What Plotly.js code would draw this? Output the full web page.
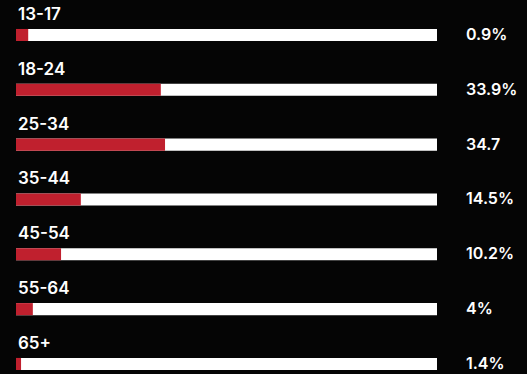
<!DOCTYPE html>
<html>
<head>
<meta charset="utf-8">
<script src="https://cdn.plot.ly/plotly-3.0.1.min.js"></script>
<style>
  html, body { margin: 0; padding: 0; background: #050505; }
  #chart { width: 527px; height: 374px; }
</style>
</head>
<body>
<div id="chart"></div>
<script>
// Age groups (top to bottom)
const ageGroups = ["13-17", "18-24", "25-34", "35-44", "45-54", "55-64", "65+"];
// Value labels as printed on the right
const valueLabels = ["0.9%", "33.9%", "34.7", "14.5%", "10.2%", "4%", "1.4%"];
// Red fill length of each bar (percent of full track)
const fillPct = [2.9, 34.4, 35.4, 15.4, 10.7, 4.0, 1.2];
// Full track (100%)
const trackMax = 100;

const RED = "#C0202E";
const FONT = "Inter, 'Open Sans', sans-serif";

const track = {
  type: "bar",
  orientation: "h",
  y: ageGroups,
  x: ageGroups.map(() => trackMax),
  marker: { color: "#FFFFFF", line: { width: 0 } },
  width: 0.22,
  hoverinfo: "skip",
  showlegend: false
};

const fill = {
  type: "bar",
  orientation: "h",
  y: ageGroups,
  x: fillPct,
  marker: { color: RED, line: { width: 0 } },
  width: 0.22,
  hoverinfo: "skip",
  showlegend: false
};

const annotations = [];
ageGroups.forEach((g, i) => {
  annotations.push({
    x: 0, y: g, xref: "x", yref: "y",
    text: g, showarrow: false,
    xanchor: "left", yanchor: "middle",
    xshift: 0, yshift: 21,
    font: { family: FONT, size: 17, color: "#FFFFFF", weight: 600 }
  });
  annotations.push({
    x: 1.064, y: g, xref: "paper", yref: "y",
    text: valueLabels[i], showarrow: false,
    xanchor: "left", yanchor: "middle",
    yshift: 1,
    font: { family: FONT, size: 16, color: "#FFFFFF", weight: 600 }
  });
});

const layout = {
  width: 527, height: 374,
  paper_bgcolor: "#050505",
  plot_bgcolor: "#050505",
  margin: { l: 16, r: 90, t: 0, b: 0, pad: 0 },
  barmode: "overlay",
  showlegend: false,
  xaxis: {
    range: [0, trackMax], visible: false, fixedrange: true,
    showgrid: false, zeroline: false
  },
  yaxis: {
    type: "category",
    categoryorder: "array", categoryarray: ageGroups,
    range: [6.183, -0.638],
    visible: false, showgrid: false, zeroline: false, fixedrange: true
  },
  annotations: annotations
};

Plotly.newPlot("chart", [track, fill], layout, { displayModeBar: false, staticPlot: true });
</script>
</body>
</html>
